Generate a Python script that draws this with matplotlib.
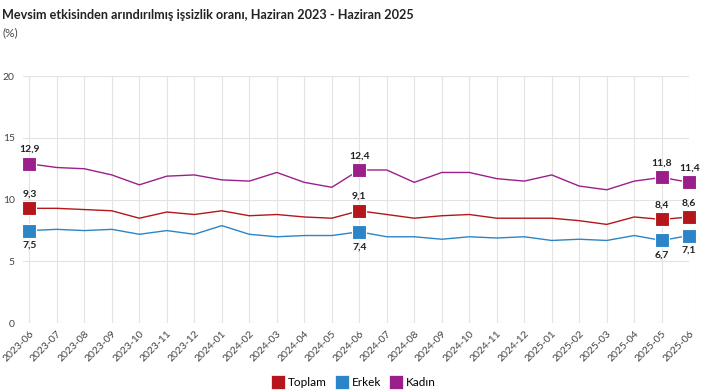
import matplotlib
matplotlib.use('Agg')
import matplotlib.pyplot as plt
from matplotlib.lines import Line2D

plt.rcParams['font.family'] = ['Lato', 'DejaVu Sans']

# data
months = ['2023-06', '2023-07', '2023-08', '2023-09', '2023-10', '2023-11', '2023-12',
          '2024-01', '2024-02', '2024-03', '2024-04', '2024-05', '2024-06', '2024-07',
          '2024-08', '2024-09', '2024-10', '2024-11', '2024-12', '2025-01', '2025-02',
          '2025-03', '2025-04', '2025-05', '2025-06']
toplam = [9.3, 9.3, 9.2, 9.1, 8.5, 9.0, 8.8, 9.1, 8.7, 8.8, 8.6, 8.5, 9.1,
          8.8, 8.5, 8.7, 8.8, 8.5, 8.5, 8.5, 8.3, 8.0, 8.6, 8.4, 8.6]
erkek = [7.5, 7.6, 7.5, 7.6, 7.2, 7.5, 7.2, 7.9, 7.2, 7.0, 7.1, 7.1, 7.4,
         7.0, 7.0, 6.8, 7.0, 6.9, 7.0, 6.7, 6.8, 6.7, 7.1, 6.7, 7.1]
kadin = [12.9, 12.6, 12.5, 12.0, 11.2, 11.9, 12.0, 11.6, 11.5, 12.2, 11.4, 11.0, 12.4,
         12.4, 11.4, 12.2, 12.2, 11.7, 11.5, 12.0, 11.1, 10.8, 11.5, 11.8, 11.4]
marked = [0, 12, 23, 24]

series = [('Toplam', toplam, '#b5161b', 'above'),
          ('Erkek', erkek, '#2b85c7', 'below'),
          ('Kadın', kadin, '#9b1f8a', 'above')]

fig = plt.figure(figsize=(7.08, 3.91), dpi=100)
ax = fig.add_axes([0.0325, 0.1731, 0.941, 0.6325])

x = list(range(len(months)))
for name, vals, col, pos in series:
    ax.plot(x, vals, color=col, lw=1.0, zorder=3)
    ax.plot([x[i] for i in marked], [vals[i] for i in marked], ls='none', marker='s',
            ms=10, mfc=col, mec='white', mew=0.8, zorder=4, clip_on=False)
    for i in marked:
        txt = ('%.1f' % vals[i]).replace('.', ',')
        dy = 7 if pos == 'above' else -7.5
        ax.annotate(txt, (x[i], vals[i]), xytext=(0, dy), textcoords='offset points',
                    ha='center', va='bottom' if pos == 'above' else 'top',
                    fontsize=7.5, fontweight='bold', color='#222222', zorder=5)

ax.set_xlim(-0.23, 24)
ax.set_ylim(0, 20)
ax.set_yticks([0, 5, 10, 15, 20])
ax.set_xticks(x)
ax.set_xticklabels(months, rotation=45, ha='right', rotation_mode='anchor')
ax.tick_params(axis='both', length=0, labelsize=7.5, labelcolor='#444444')
ax.tick_params(axis='x', pad=4)
ax.tick_params(axis='y', pad=6)
ax.grid(True, color='#e3e3e3', lw=0.8)
ax.set_axisbelow(True)
for s in ax.spines.values():
    s.set_visible(False)

fig.text(0.003, 0.978, 'Mevsim etkisinden arındırılmış işsizlik oranı, Haziran 2023 - Haziran 2025',
         fontsize=9.1, fontweight='bold', color='#222222', va='top', ha='left')
fig.text(0.003, 0.93, '(%)', fontsize=8.5, color='#444444', va='top', ha='left')

handles = [Line2D([], [], ls='none', marker='s', ms=10, mfc=c, mec='white', mew=0.5)
           for _, _, c, _ in series]
fig.legend(handles, [s[0] for s in series], loc='center', bbox_to_anchor=(0.5, 0.022),
           ncol=3, frameon=False, fontsize=8.5, handletextpad=0.3, columnspacing=0.8,
           handlelength=1.0)

fig.savefig('out.png', dpi=100)
